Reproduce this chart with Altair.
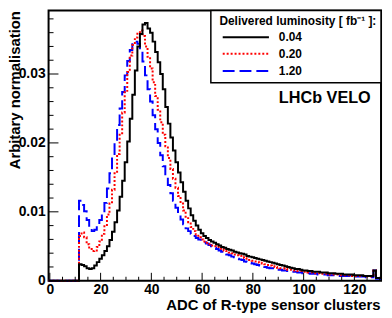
import altair as alt
import pandas as pd

# ---- data (values in units of 1e-3), bins centred on ADC 12..130 ----
first_bin = 12
last_bin = 130
lumis = ["0.04", "0.20", "1.20"]

black_vals = [2.4, 2.3, 2.1, 1.8, 1.7, 1.8, 2.2, 2.7, 3.2, 3.7,
              4.3, 5.0, 5.9, 7.1, 8.5, 10.2, 12.2, 14.5, 17.2, 20.2,
              23.5, 27.0, 30.5, 34.0, 35.8, 37.2, 37.4, 36.6, 36.0, 34.7,
              33.2, 31.7, 30.0, 27.8, 25.2, 22.8, 20.8, 18.9, 17.2, 15.7,
              14.3, 12.9, 11.6, 10.5, 9.5, 8.7, 8.0, 7.4, 6.9, 6.5,
              6.2, 5.9, 5.7, 5.5, 5.3, 5.1, 4.9, 4.8, 4.6, 4.5,
              4.4, 4.2, 4.1, 4.0, 3.9, 3.8, 3.6, 3.5, 3.4, 3.3,
              3.2, 3.1, 3.0, 2.9, 2.8, 2.7, 2.6, 2.5, 2.4, 2.3,
              2.2, 2.1, 2.0, 1.9, 1.8, 1.7, 1.7, 1.6, 1.5, 1.5,
              1.4, 1.4, 1.3, 1.3, 1.3, 1.2, 1.2, 1.2, 1.1, 1.1,
              1.1, 1.0, 1.0, 1.0, 0.9, 0.9, 0.9, 0.9, 0.8, 0.8,
              0.8, 0.8, 0.7, 0.7, 0.7, 0.7, 1.5, 0.4, 0.4]

red_vals = [6.5, 7.0, 6.3, 5.3, 4.6, 4.3, 4.4, 4.9, 5.7, 6.8,
            8.1, 9.6, 11.2, 13.2, 15.6, 18.4, 21.4, 24.4, 27.4, 30.3,
            32.7, 34.2, 35.3, 36.0, 36.3, 35.5, 34.0, 32.5, 30.8, 28.8,
            26.8, 24.8, 23.0, 21.2, 19.5, 17.8, 16.2, 14.8, 13.5, 12.3,
            11.2, 10.2, 9.3, 8.5, 7.8, 7.2, 6.7, 6.3, 6.0, 5.7,
            5.5, 5.3, 5.1, 5.0, 4.9, 4.7, 4.6, 4.4, 4.3, 4.1,
            4.0, 3.8, 3.7, 3.6, 3.4, 3.3, 3.2, 3.0, 2.9, 2.8,
            2.7, 2.6, 2.5, 2.4, 2.3, 2.2, 2.1, 2.0, 1.9, 1.8,
            1.8, 1.7, 1.6, 1.6, 1.5, 1.5, 1.4, 1.4, 1.3, 1.3,
            1.2, 1.2, 1.1, 1.1, 1.1, 1.0, 1.0, 1.0, 0.9, 0.9,
            0.9, 0.9, 0.8, 0.8, 0.8, 0.8, 0.8, 0.7, 0.7, 0.7,
            0.7, 0.7, 0.7, 0.6, 0.6, 0.6, 1.5, 0.4, 0.4]

blue_vals = [11.6, 11.0, 10.1, 8.8, 7.5, 7.2, 7.4, 8.0, 8.8, 9.9,
             11.3, 13.4, 15.6, 17.9, 20.2, 22.6, 25.0, 27.4, 29.8, 31.9,
             33.5, 34.6, 34.7, 34.4, 33.5, 31.8, 29.8, 27.8, 26.0, 24.0,
             22.0, 20.0, 18.2, 16.6, 15.2, 13.9, 12.7, 11.6, 10.6, 9.7,
             8.9, 8.2, 7.6, 7.2, 6.8, 6.5, 6.2, 6.0, 5.8, 5.6,
             5.4, 5.2, 5.0, 4.8, 4.6, 4.4, 4.2, 4.0, 3.8, 3.7,
             3.5, 3.4, 3.2, 3.1, 3.0, 2.8, 2.7, 2.6, 2.5, 2.4,
             2.3, 2.2, 2.1, 2.0, 1.9, 1.8, 1.8, 1.7, 1.6, 1.6,
             1.5, 1.5, 1.4, 1.4, 1.3, 1.3, 1.2, 1.2, 1.1, 1.1,
             1.1, 1.0, 1.0, 1.0, 0.9, 0.9, 0.9, 0.9, 0.8, 0.8,
             0.8, 0.8, 0.7, 0.7, 0.7, 0.7, 0.7, 0.6, 0.6, 0.6,
             0.6, 0.6, 0.6, 0.5, 0.5, 0.5, 1.5, 0.3, 0.3]

x_major = [0, 20, 40, 60, 80, 100, 120]
x_minor = [5, 10, 15, 25, 30, 35, 45, 50, 55, 65, 70, 75, 85, 90, 95,
           105, 110, 115, 125, 130]
y_major = [0, 0.01, 0.02, 0.03]
y_minor = [0.002, 0.004, 0.006, 0.008, 0.012, 0.014, 0.016, 0.018,
           0.022, 0.024, 0.026, 0.028, 0.032, 0.034, 0.036, 0.038]

# ---- styles ----
FONT = "Liberation Sans"
W, H = 336, 273
colors = {"0.04": "black", "0.20": "#ff0000", "1.20": "#0000ff"}
dashes = {"0.04": None, "0.20": [2, 2], "1.20": [12, 5]}
series = {"0.04": black_vals, "0.20": red_vals, "1.20": blue_vals}

x_scale = alt.Scale(domain=[-0.5, 130.5], nice=False, zero=False)
y_scale = alt.Scale(domain=[0, 0.0392], nice=False, zero=True)


def hist_df(vals):
    xs = [-0.5] + [k - 0.5 for k in range(first_bin, last_bin + 1)] + [last_bin + 0.5]
    ys = [0.0] + [v / 1000 for v in vals] + [vals[-1] / 1000]
    return pd.DataFrame({"adc": xs, "val": ys})


x_axis = alt.Axis(values=x_major, format="d", title="ADC of R-type sensor clusters",
                  titleX=W - 1, titleY=17, titleAlign="right", titleBaseline="top",
                  titleAnchor="end",
                  ticks=False, tickSize=0, domain=False, grid=False, labelPadding=2,
                  labelFont=FONT, labelFontSize=14, labelFontWeight="bold",
                  labelColor="black", labelFlush=False,
                  titleFont=FONT, titleFontSize=15, titleFontWeight="bold",
                  titleColor="black")
y_axis = alt.Axis(values=y_major,
                  labelExpr="datum.value == 0 ? '0' : format(datum.value, '.2f')",
                  title="Arbitary normalisation", titleX=-29.5, titleY=0,
                  titleAngle=270, titleAlign="right", titleBaseline="alphabetic",
                  titleAnchor="end",
                  ticks=False, tickSize=0, domain=False, grid=False, labelPadding=3.5,
                  labelFont=FONT, labelFontSize=14, labelFontWeight="bold",
                  labelColor="black", labelFlush=False,
                  titleFont=FONT, titleFontSize=15, titleFontWeight="bold",
                  titleColor="black")

layers = []
for i, name in enumerate(["1.20", "0.20", "0.04"]):
    kw = dict(interpolate="step-after", color=colors[name], strokeWidth=2,
              strokeJoin="miter", strokeCap="butt")
    if dashes[name]:
        kw["strokeDash"] = dashes[name]
    first = (name == "0.04")
    layers.append(
        alt.Chart(hist_df(series[name])).mark_line(**kw).encode(
            x=alt.X("adc:Q", scale=x_scale, axis=x_axis if first else None),
            y=alt.Y("val:Q", scale=y_scale, axis=y_axis if first else None),
        )
    )

# inward ticks
def yticks(vals, length):
    return alt.Chart(pd.DataFrame({"val": vals})).mark_rule(color="black", strokeWidth=1).encode(
        y=alt.Y("val:Q", scale=y_scale, axis=None),
        x=alt.value(0), x2=alt.value(length))


def xticks(vals, length):
    return alt.Chart(pd.DataFrame({"adc": vals})).mark_rule(color="black", strokeWidth=1).encode(
        x=alt.X("adc:Q", scale=x_scale, axis=None),
        y=alt.value(H), y2=alt.value(H - length))


layers += [yticks(y_major, 10), yticks(y_minor, 5), xticks(x_major, 8), xticks(x_minor, 4)]

one = pd.DataFrame({"k": [0]})

# legend box
layers.append(alt.Chart(one).mark_rect(fill="white", stroke="black", strokeWidth=1.5).encode(
    x=alt.value(164), x2=alt.value(W), y=alt.value(0), y2=alt.value(73)))
layers.append(alt.Chart(one).mark_text(align="left", baseline="middle", font=FONT,
                                       fontSize=12, fontWeight="bold", color="black").encode(
    x=alt.value(172.7), y=alt.value(10.5), text=alt.value("Delivered luminosity [ fb⁻¹ ]:")))

entry_y = [27, 43.7, 61]
for name, yy in zip(lumis, entry_y):
    kw = dict(color=colors[name], strokeWidth=2, strokeCap="butt")
    if dashes[name]:
        kw["strokeDash"] = dashes[name]
    layers.append(alt.Chart(one).mark_rule(**kw).encode(
        x=alt.value(176), x2=alt.value(222.7), y=alt.value(yy)))
    layers.append(alt.Chart(one).mark_text(align="left", baseline="middle", font=FONT,
                                           fontSize=12, fontWeight="bold", color="black").encode(
        x=alt.value(232.7), y=alt.value(yy), text=alt.value(name)))

layers.append(alt.Chart(one).mark_text(align="left", baseline="middle", font=FONT,
                                       fontSize=16.4, fontWeight="bold", color="black").encode(
    x=alt.value(232.7), y=alt.value(88), text=alt.value("LHCb VELO")))

chart = alt.layer(*layers).resolve_axis(x="independent", y="independent").properties(
    width=W, height=H,
    autosize=alt.AutoSizeParams(type="none"),
    padding={"left": 41, "top": 1, "right": 3, "bottom": 34},
    background="white",
).configure_view(stroke="black", strokeWidth=2)

chart.save("out.html", embed_options={"renderer": "svg", "actions": False})
